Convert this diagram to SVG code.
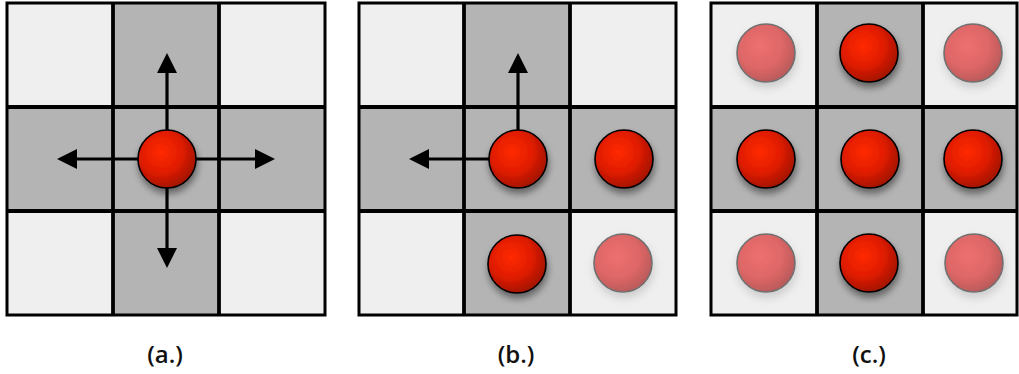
<svg xmlns="http://www.w3.org/2000/svg" width="1019" height="374" viewBox="0 0 1019 374">
<style>
.lt{fill:#efefef}
.dk{fill:#b4b4b4}
.grid{fill:none;stroke:#000;stroke-width:3.8}
.frame{fill:none;stroke:#000;stroke-width:3}
.ball{fill:url(#red);stroke:#000;stroke-width:1.6;filter:url(#sh)}
.ghost{fill:url(#pink);stroke:#707070;stroke-width:1.6;filter:url(#sh2)}
.arr{stroke:#000;stroke-width:3.2;fill:none;marker-end:url(#head)}
.lbl{font-family:"Open Sans","DejaVu Sans",sans-serif;font-size:24px;font-weight:600;fill:#111;text-anchor:middle}
</style>
<defs>
<radialGradient id="red" cx="0.4" cy="0.38" r="0.65">
<stop offset="0" stop-color="#ff2a00"/>
<stop offset="0.55" stop-color="#e01c00"/>
<stop offset="1" stop-color="#a01200"/>
</radialGradient>
<radialGradient id="pink" cx="0.4" cy="0.38" r="0.65">
<stop offset="0" stop-color="#ee7070"/>
<stop offset="0.6" stop-color="#dd6666"/>
<stop offset="1" stop-color="#b85a5a"/>
</radialGradient>
<filter id="sh" x="-50%" y="-50%" width="200%" height="200%">
<feDropShadow dx="1" dy="5" stdDeviation="3.5" flood-color="#000" flood-opacity="0.45"/>
</filter>
<filter id="sh2" x="-50%" y="-50%" width="200%" height="200%">
<feDropShadow dx="1" dy="5" stdDeviation="4" flood-color="#000" flood-opacity="0.15"/>
</filter>
<marker id="head" viewBox="0 0 20 20" markerWidth="20" markerHeight="20" markerUnits="userSpaceOnUse" refX="0" refY="10" orient="auto">
<path d="M0,0 L20,10 L0,20 z" fill="#000"/>
</marker>
</defs>
<rect width="1019" height="374" fill="#fff"/>

<g id="panel-a">
<rect class="lt" x="7" y="3" width="106" height="104"/>
<rect class="dk" x="113" y="3" width="106" height="104"/>
<rect class="lt" x="219" y="3" width="106" height="104"/>
<rect class="dk" x="7" y="107" width="106" height="104"/>
<rect class="dk" x="113" y="107" width="106" height="104"/>
<rect class="dk" x="219" y="107" width="106" height="104"/>
<rect class="lt" x="7" y="211" width="106" height="104"/>
<rect class="dk" x="113" y="211" width="106" height="104"/>
<rect class="lt" x="219" y="211" width="106" height="104"/>
<path class="grid" d="M113,3V315M219,3V315M7,107H325M7,211H325"/>
<rect class="frame" x="7" y="3" width="318" height="312"/>
</g>

<g id="panel-b">
<rect class="lt" x="359" y="3" width="105" height="104"/>
<rect class="dk" x="464" y="3" width="106" height="104"/>
<rect class="lt" x="570" y="3" width="106" height="104"/>
<rect class="dk" x="359" y="107" width="105" height="104"/>
<rect class="dk" x="464" y="107" width="106" height="104"/>
<rect class="dk" x="570" y="107" width="106" height="104"/>
<rect class="lt" x="359" y="211" width="105" height="104"/>
<rect class="dk" x="464" y="211" width="106" height="104"/>
<rect class="lt" x="570" y="211" width="106" height="104"/>
<path class="grid" d="M464,3V315M570,3V315M359,107H676M359,211H676"/>
<rect class="frame" x="359" y="3" width="317" height="312"/>
</g>

<g id="panel-c">
<rect class="lt" x="711" y="3" width="106" height="104"/>
<rect class="dk" x="817" y="3" width="106" height="104"/>
<rect class="lt" x="923" y="3" width="94" height="104"/>
<rect class="dk" x="711" y="107" width="106" height="104"/>
<rect class="dk" x="817" y="107" width="106" height="104"/>
<rect class="dk" x="923" y="107" width="94" height="104"/>
<rect class="lt" x="711" y="211" width="106" height="104"/>
<rect class="dk" x="817" y="211" width="106" height="104"/>
<rect class="lt" x="923" y="211" width="94" height="104"/>
<path class="grid" d="M817,3V315M923,3V315M711,107H1017M711,211H1017"/>
<rect class="frame" x="711" y="3" width="306" height="312"/>
</g>

<g id="connectors">
<line class="arr" x1="167" y1="159" x2="167" y2="73"/>
<line class="arr" x1="167" y1="159" x2="77" y2="159"/>
<line class="arr" x1="167" y1="159" x2="255" y2="159"/>
<line class="arr" x1="167" y1="159" x2="167" y2="248"/>
<line class="arr" x1="518" y1="159" x2="518" y2="73"/>
<line class="arr" x1="518" y1="159" x2="429" y2="159"/>
</g>

<g id="ball-a-center"><circle class="ball" cx="167" cy="159" r="29"/></g>

<g id="ball-b-center"><circle class="ball" cx="518" cy="159" r="29"/></g>
<g id="ball-b-right"><circle class="ball" cx="624" cy="159" r="29"/></g>
<g id="ball-b-bottom"><circle class="ball" cx="517" cy="264" r="29"/></g>
<g id="ball-b-ghost"><circle class="ghost" cx="623" cy="263" r="29"/></g>

<g id="ball-c-tl"><circle class="ghost" cx="766" cy="53" r="29"/></g>
<g id="ball-c-tc"><circle class="ball" cx="869" cy="53" r="29"/></g>
<g id="ball-c-tr"><circle class="ghost" cx="973" cy="53" r="29"/></g>
<g id="ball-c-ml"><circle class="ball" cx="766" cy="159" r="29"/></g>
<g id="ball-c-mc"><circle class="ball" cx="870" cy="159" r="29"/></g>
<g id="ball-c-mr"><circle class="ball" cx="973" cy="159" r="29"/></g>
<g id="ball-c-bl"><circle class="ghost" cx="766" cy="263" r="29"/></g>
<g id="ball-c-bc"><circle class="ball" cx="869" cy="263" r="29"/></g>
<g id="ball-c-br"><circle class="ghost" cx="974" cy="263" r="29"/></g>

<g id="labels">
<text class="lbl" x="165" y="363">(a.)</text>
<text class="lbl" x="516" y="363">(b.)</text>
<text class="lbl" x="869" y="363">(c.)</text>
</g>
</svg>
